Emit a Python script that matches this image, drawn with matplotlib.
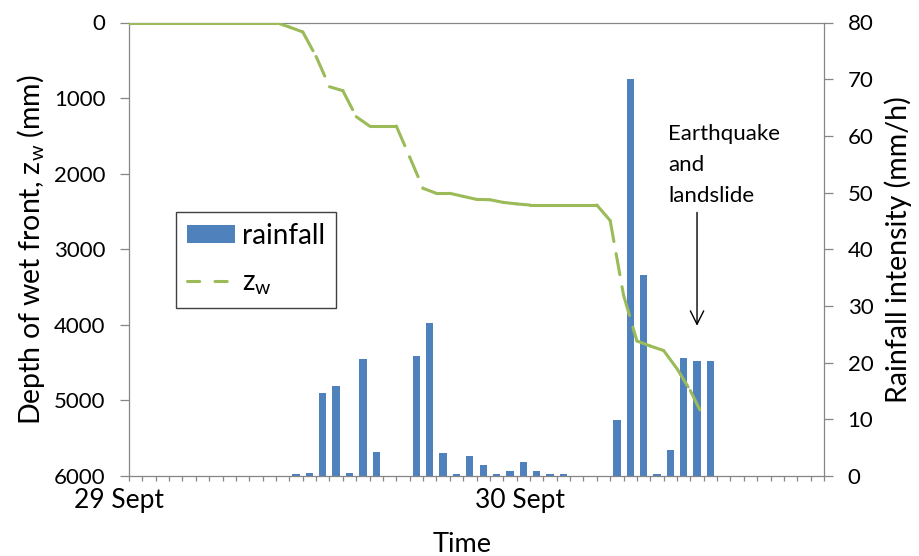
import numpy as np
import matplotlib.pyplot as plt
import matplotlib.transforms as mtransforms
from matplotlib.lines import Line2D
from matplotlib.patches import Patch

# fonts
plt.rcParams['font.family'] = ['Lato', 'DejaVu Sans']
plt.rcParams['font.size'] = 16
plt.rcParams['mathtext.fontset'] = 'custom'
plt.rcParams['mathtext.rm'] = 'Lato'

# 1. data (time step index, 52 steps on the axis)
n_steps = 52
rainfall = [0] * 12 + [0.3, 0.5, 14.7, 15.9, 0.6, 20.7, 4.2, 0, 0, 21.2, 27.0, 4.1,
                       0.3, 3.5, 1.9, 0.3, 0.9, 2.4, 0.8, 0.3, 0.3, 0, 0, 0,
                       9.8, 70.1, 35.4, 0.3, 4.5, 20.8, 20.2, 20.2] + [0] * 8

depth_zw = [0] * 12 + [60, 125, 450, 850, 902, 1246, 1370, 1370, 1370, 1780, 2194, 2260,
                       2260, 2300, 2340, 2345, 2380, 2400, 2415, 2415, 2415, 2415, 2415, 2415,
                       2620, 3605, 4213, 4280, 4340, 4580, 4870, 5230]
t_zw = np.arange(len(depth_zw))

day_ticks = [0, 30]
day_labels = ['29 Sept', '30 Sept']
event_step = 42.5
event_label = 'Earthquake\nand\nlandslide'

blue = '#4F81BD'
green = '#9BBB59'
grey = '#868686'

# 2. plot
fig = plt.figure(figsize=(9.19, 5.56), dpi=100)
ax = fig.add_axes([129 / 919, 1 - 476 / 556, (824 - 129) / 919, (476 - 22.5) / 556])
ax2 = ax.twinx()

ax.bar(np.arange(n_steps) + 0.5, rainfall, width=0.55, color=blue, zorder=2)

# Excel restarts the dash pattern on every segment
for i in range(len(t_zw) - 1):
    ax2.plot(t_zw[i:i + 2], depth_zw[i:i + 2], color=green, lw=2.2,
             dashes=(7, 4), dash_capstyle='round', solid_capstyle='round')

ax.set_xlim(0, n_steps)
ax.set_ylim(0, 80)
ax2.set_ylim(6000, 0)

ax.yaxis.tick_right()
ax.yaxis.set_label_position('right')
ax2.yaxis.tick_left()
ax2.yaxis.set_label_position('left')

ax.set_yticks(range(0, 81, 10))
ax2.set_yticks(range(0, 6001, 1000))
ax.set_xticks(day_ticks)
ax.set_xticklabels(day_labels, fontsize=19)
ax.set_xticks(np.arange(0, n_steps + 1), minor=True)

ax.tick_params(axis='x', which='both', length=3.6, width=0.9, color=grey, direction='out', pad=5)
ax.tick_params(axis='y', length=6.5, width=0.9, color=grey, direction='out', pad=10.5)
ax2.tick_params(axis='y', length=6.5, width=0.9, color=grey, direction='out', pad=10.5)

offset = mtransforms.ScaledTranslation(-10 / 100, 0, fig.dpi_scale_trans)
for lab in ax.get_xticklabels():
    lab.set_transform(lab.get_transform() + offset)

for s in ax.spines.values():
    s.set_color(grey)
    s.set_linewidth(0.9)
ax2.set_frame_on(False)

ax.set_xlabel('Time', fontsize=19.5, va='center')
ax.xaxis.set_label_coords((462 - 129) / 695, (476 - 545) / 453.5)
ax.set_ylabel('Rainfall intensity (mm/h)', fontsize=20.5, va='center')
ax.yaxis.set_label_coords((898 - 129) / 695, 0.5)
ax2.set_ylabel('Depth of wet front, z$_{\\mathrm{w}}$ (mm)', fontsize=20.5, va='center')
ax2.yaxis.set_label_coords((31 - 129) / 695, 0.5)

ax.annotate('', xy=(event_step, 26.5), xytext=(event_step, 46.5),
            arrowprops=dict(arrowstyle='->', color='black', lw=1.0, mutation_scale=24,
                            shrinkA=0, shrinkB=0))
ax.text(40.35, 47.6, event_label, ha='left', va='bottom', fontsize=16, linespacing=1.7)

handles = [Patch(facecolor=blue),
           Line2D([0], [0], color=green, lw=2.2, dashes=(4, 5), dash_capstyle='round')]
leg = ax2.legend(handles, ['rainfall', 'z$_{\\mathrm{w}}$'], loc='upper left',
                 bbox_to_anchor=(176 / 919, 1 - 212 / 556), bbox_transform=fig.transFigure,
                 fancybox=False, edgecolor='#404040', framealpha=1, borderaxespad=0,
                 handlelength=1.73, handleheight=0.62, handletextpad=0.24,
                 labelspacing=0.72, borderpad=0.4, fontsize=20)
leg.get_frame().set_linewidth(1.0)

fig.savefig('out.png', dpi=100)
